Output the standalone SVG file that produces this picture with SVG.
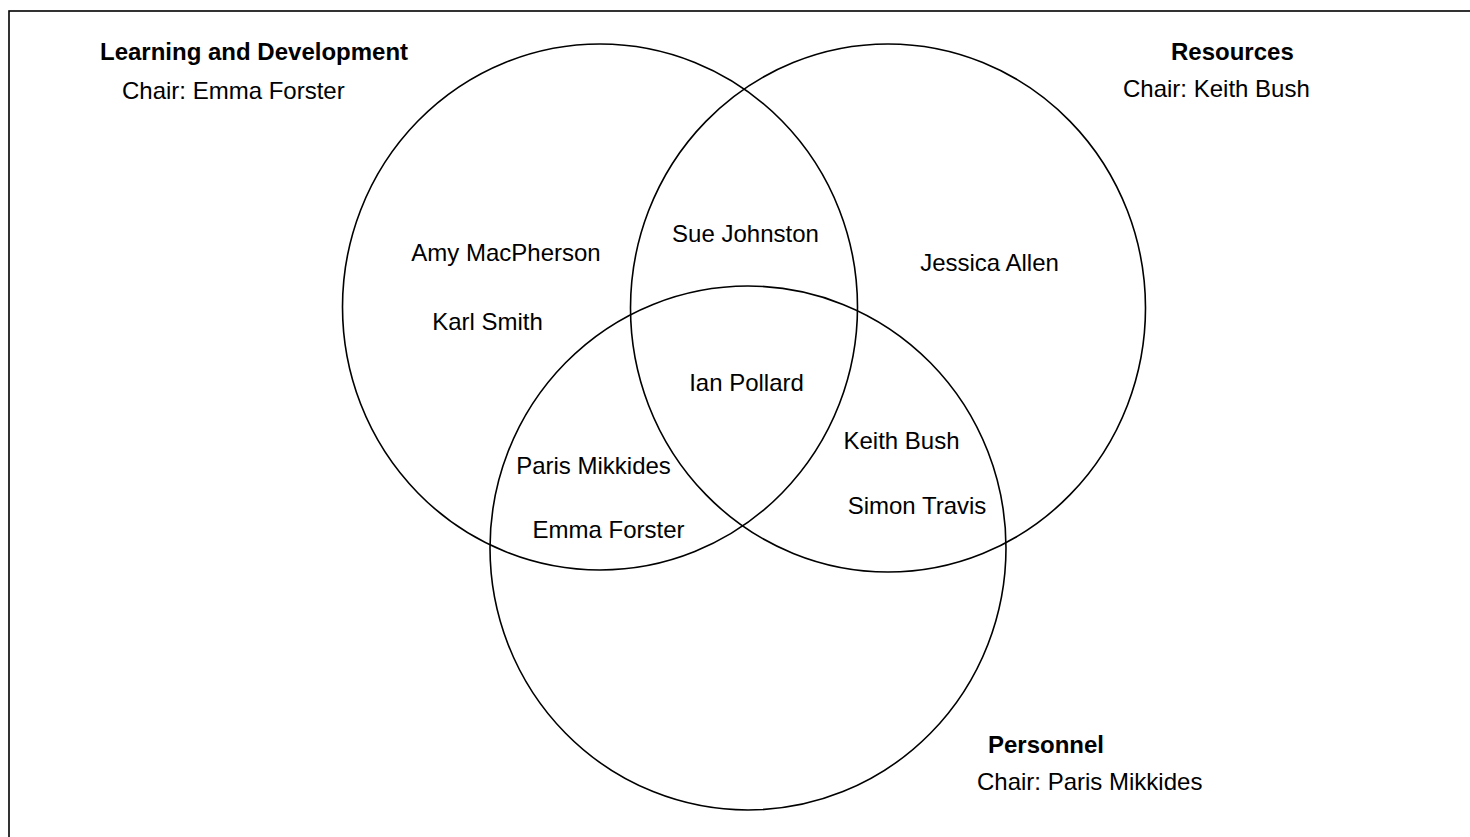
<svg xmlns="http://www.w3.org/2000/svg" width="1470" height="837" viewBox="0 0 1470 837">
<style>
.c{fill:none;stroke:#000;stroke-width:1.6}
.t{font-family:"Liberation Sans",Arial,sans-serif;font-size:24px;fill:#000}
.b{font-weight:bold}
.m{text-anchor:middle}
</style>
<rect x="0" y="0" width="1470" height="837" fill="#fff"/>
<rect x="9" y="11" width="1475" height="840" fill="none" stroke="#000" stroke-width="1.6"/>
<g id="connectors"></g>
<g id="learning">
<ellipse class="c" cx="600" cy="307" rx="257.5" ry="263"/>
<text class="t b" x="100" y="60">Learning and Development</text>
<text class="t" x="122" y="99">Chair: Emma Forster</text>
</g>
<g id="resources">
<ellipse class="c" cx="888" cy="308" rx="257.5" ry="264"/>
<text class="t b" x="1171" y="60">Resources</text>
<text class="t" x="1123" y="97">Chair: Keith Bush</text>
</g>
<g id="personnel">
<ellipse class="c" cx="748" cy="548" rx="258" ry="262"/>
<text class="t b" x="988" y="753">Personnel</text>
<text class="t" x="977" y="790">Chair: Paris Mikkides</text>
</g>
<g id="members">
<text class="t m" x="506" y="261">Amy MacPherson</text>
<text class="t m" x="487.5" y="330">Karl Smith</text>
<text class="t m" x="745.5" y="242">Sue Johnston</text>
<text class="t m" x="989.5" y="271">Jessica Allen</text>
<text class="t m" x="746.5" y="391">Ian Pollard</text>
<text class="t m" x="901.5" y="449">Keith Bush</text>
<text class="t m" x="917" y="514">Simon Travis</text>
<text class="t m" x="593.5" y="474">Paris Mikkides</text>
<text class="t m" x="608.5" y="538">Emma Forster</text>
</g>
</svg>
